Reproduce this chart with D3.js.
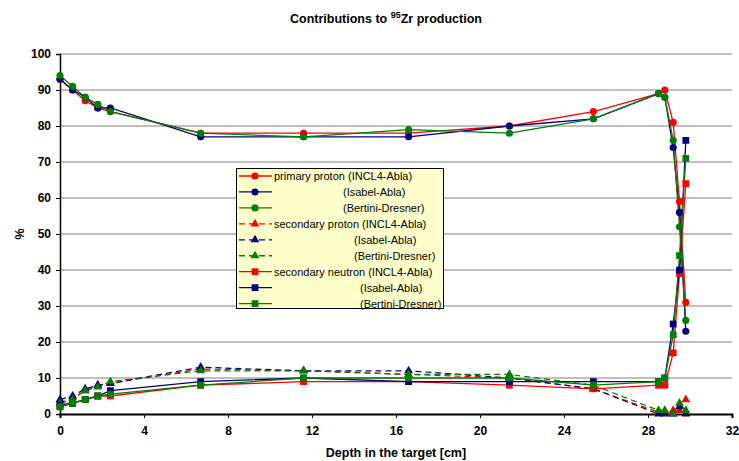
<!DOCTYPE html>
<html><head><meta charset="utf-8">
<script src="https://cdn.jsdelivr.net/npm/d3@7"></script>
<style>body{margin:0;background:#fff}svg{display:block;font-family:"Liberation Sans",Arial,sans-serif}</style>
</head><body><svg id="c" width="739" height="461"></svg>
<script>
const depth = [0, 0.6, 1.2, 1.8, 2.4, 6.7, 11.6, 16.6, 21.4, 25.4, 28.5, 28.8, 29.2, 29.5, 29.8];
const primaryINCL = [93, 90, 87, 85, 84, 78, 78, 78, 80, 84, 89, 90, 81, 59, 31];
const primaryIsabel = [93, 90, 88, 85, 85, 77, 77, 77, 80, 82, 89, 88, 74, 56, 23];
const primaryBertini = [94, 91, 88, 86, 84, 78, 77, 79, 78, 82, 89, 88, 76, 52, 26];
const secProtonINCL = [3, 4.5, 6.5, 8, 8.5, 12.5, 12, 11, 10, 7, 0.5, 0.5, 1, 1, 4];
const secProtonIsabel = [4, 5, 7, 8, 8.5, 13, 12, 12, 10, 7, 0, 0, 0, 2, 0];
const secProtonBertini = [3, 4, 6.5, 7.5, 9, 12, 12, 11, 11, 8, 1, 1, 0, 3, 1];
const secNeutronINCL = [2, 3, 4, 5, 5, 8, 9, 9, 8, 7, 8, 8, 17, 39, 64];
const secNeutronIsabel = [2.5, 3, 4, 5, 6.5, 9, 10, 9, 9, 9, 9, 10, 25, 40, 76];
const secNeutronBertini = [2, 3, 4, 5, 5.5, 8, 10, 10, 10, 8, 9, 10, 22, 44, 71];
const xTicks = [0, 4, 8, 12, 16, 20, 24, 28, 32];
const yTicks = [0, 10, 20, 30, 40, 50, 60, 70, 80, 90, 100];
const legendLabels = ["primary proton (INCL4-Abla)", "(Isabel-Abla)", "(Bertini-Dresner)",
  "secondary proton (INCL4-Abla)", "(Isabel-Abla)", "(Bertini-Dresner)",
  "secondary neutron (INCL4-Abla)", "(Isabel-Abla)", "(Bertini-Dresner)"];

const RED = "#ff0000", BLUE = "#000080", GREEN = "#008000";
const series = [
  {v: primaryINCL, c: RED, m: "circle", dash: null},
  {v: primaryIsabel, c: BLUE, m: "circle", dash: null},
  {v: primaryBertini, c: GREEN, m: "circle", dash: null},
  {v: secProtonINCL, c: RED, m: "triangle", dash: "6,4"},
  {v: secProtonIsabel, c: BLUE, m: "triangle", dash: "6,4"},
  {v: secProtonBertini, c: GREEN, m: "triangle", dash: "6,4"},
  {v: secNeutronINCL, c: RED, m: "square", dash: null},
  {v: secNeutronIsabel, c: BLUE, m: "square", dash: null},
  {v: secNeutronBertini, c: GREEN, m: "square", dash: null}
];
const legendIndent = [274, 343, 343, 274, 354, 354, 274, 360, 360];

const svg = d3.select("#c");
const x = d3.scaleLinear().domain([0, 32]).range([60, 732]);
const y = d3.scaleLinear().domain([0, 100]).range([414, 54]);

// gridlines
svg.append("g").selectAll("line").data(yTicks.filter(t => t > 0)).join("line")
  .attr("x1", x(0)).attr("x2", x(32)).attr("y1", d => y(d)).attr("y2", d => y(d))
  .attr("stroke", "#808080").attr("stroke-width", 1);

// axes
const yAxis = svg.append("g").attr("transform", `translate(${x(0)},0)`)
  .call(d3.axisLeft(y).tickValues(yTicks).tickSize(4).tickPadding(5));
const xAxis = svg.append("g").attr("transform", `translate(0,${y(0)})`)
  .call(d3.axisBottom(x).tickValues(xTicks).tickSize(4).tickPadding(8));
[yAxis, xAxis].forEach(a => {
  a.selectAll("text").attr("font-size", 12).attr("font-weight", "bold").attr("fill", "#000")
    .attr("font-family", '"Liberation Sans",Arial,sans-serif');
  a.selectAll("line").attr("stroke", "#000");
});
yAxis.select(".domain").attr("stroke", "#000").attr("stroke-width", 1.5);
xAxis.select(".domain").attr("stroke", "#000").attr("stroke-width", 2);

const sym = {circle: d3.symbolCircle, triangle: d3.symbolTriangle, square: d3.symbolSquare};
const size = {circle: 40, triangle: 34, square: 46};

const line = d3.line().x((d, i) => x(depth[i])).y(d => y(d));
const plot = svg.append("g");
series.forEach(s => {
  plot.append("path").datum(s.v).attr("d", line).attr("fill", "none")
    .attr("stroke", s.c).attr("stroke-width", s.dash ? 1.2 : 1.3)
    .attr("stroke-dasharray", s.dash);
});
series.forEach(s => {
  plot.append("g").selectAll("path").data(s.v).join("path")
    .attr("transform", (d, i) => `translate(${x(depth[i])},${y(d)})`)
    .attr("d", d3.symbol().type(sym[s.m]).size(size[s.m]))
    .attr("fill", s.c);
});

// legend
const lg = svg.append("g");
lg.append("rect").attr("x", 236.5).attr("y", 168.5).attr("width", 207).attr("height", 140)
  .attr("fill", "#ffffcc").attr("stroke", "#000").attr("stroke-width", 1);
series.forEach((s, i) => {
  const yy = 176 + i * 15.95;
  lg.append("line").attr("x1", 239).attr("x2", 272).attr("y1", yy).attr("y2", yy)
    .attr("stroke", s.c).attr("stroke-width", 1.3).attr("stroke-dasharray", s.dash);
  lg.append("path").attr("transform", `translate(255,${yy})`)
    .attr("d", d3.symbol().type(sym[s.m]).size(size[s.m])).attr("fill", s.c);
  lg.append("text").attr("x", legendIndent[i]).attr("y", yy + 4).attr("font-size", 11)
    .attr("fill", "#000").text(legendLabels[i]);
});

// title
const t = svg.append("text").attr("x", 386).attr("y", 23).attr("text-anchor", "middle")
  .attr("font-size", 12.5).attr("font-weight", "bold").attr("fill", "#000");
t.append("tspan").text("Contributions to ");
t.append("tspan").attr("font-size", 9).attr("dy", -5).text("95");
t.append("tspan").attr("dy", 5).text("Zr production");

svg.append("text").attr("x", 396).attr("y", 457).attr("text-anchor", "middle")
  .attr("font-size", 12.5).attr("font-weight", "bold").text("Depth in the target [cm]");
svg.append("text").attr("transform", "translate(24,234) rotate(-90)").attr("text-anchor", "middle")
  .attr("font-size", 12.5).attr("font-weight", "bold").text("%");
</script></body></html>
